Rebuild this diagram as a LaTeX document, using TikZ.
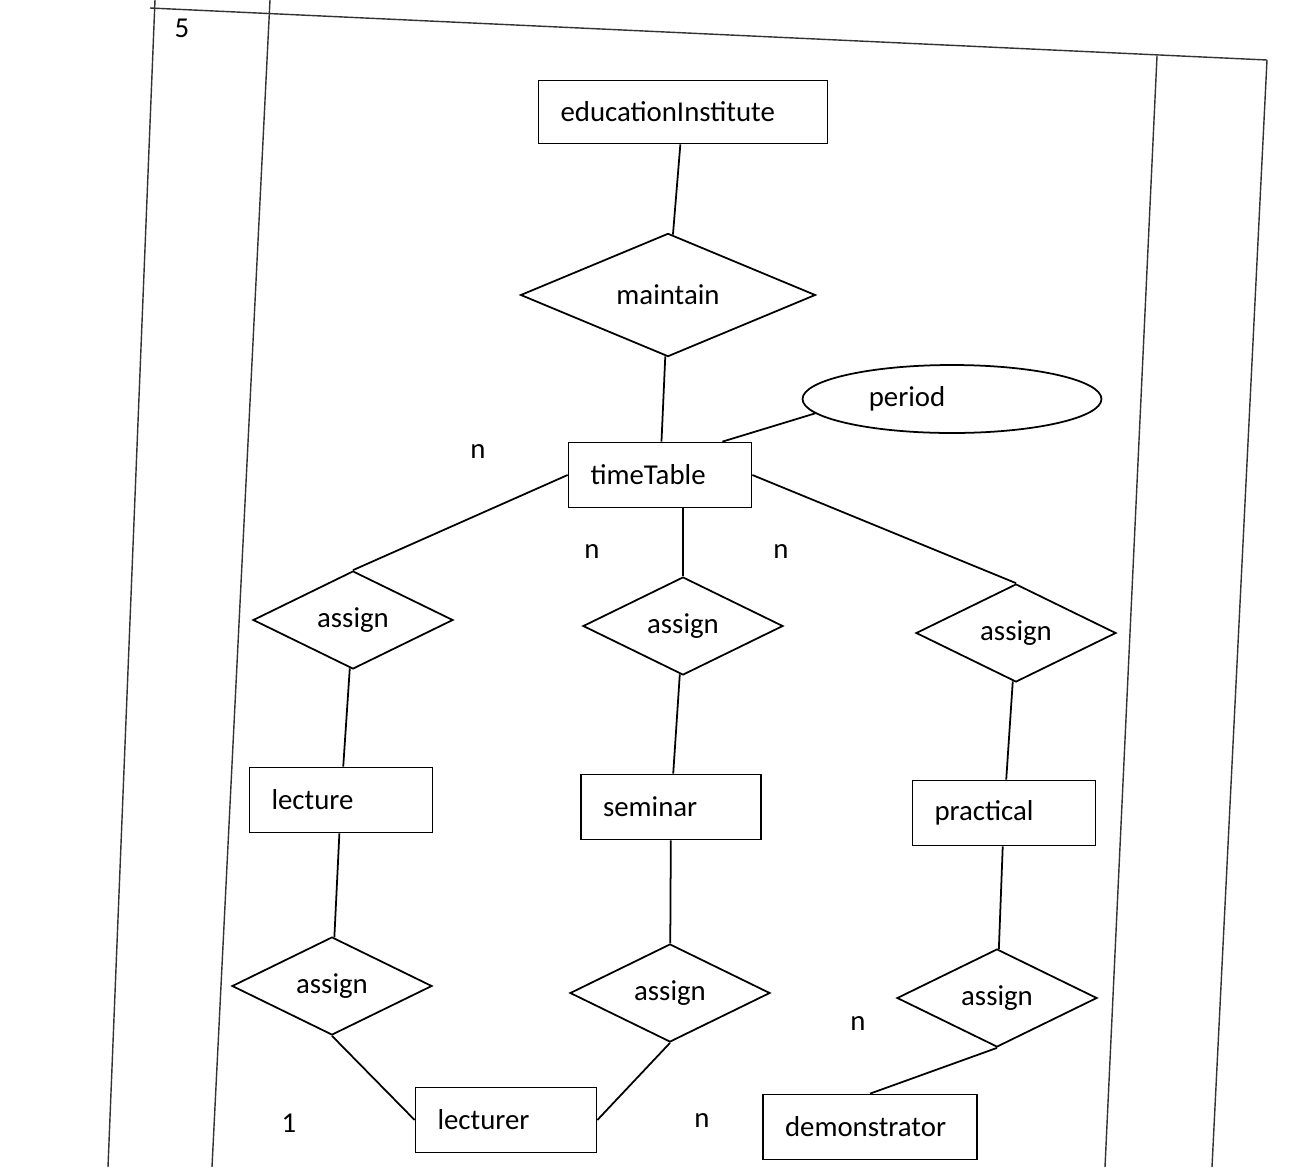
\documentclass[tikz,border=0pt]{standalone}
\usepackage{fontspec}
\setmainfont{Carlito}
\usetikzlibrary{shapes.geometric}
\begin{document}
\begin{tikzpicture}[x=0.02cm,y=-0.02cm]
  \tikzstyle{lien}=[line width=1pt]
  \tikzstyle{cadre}=[line width=0.8pt,black!80]
\tikzset{texte/.style={font=\fontsize{16.4}{19}\selectfont},
entite/.style={draw,line width=1pt,texte,inner xsep=0.44cm,minimum height=1.3cm,text width=#1,align=left},
entite/.default={2.78cm},
relation/.style={draw,diamond,line width=1pt,texte,inner sep=0pt,minimum width=4cm,minimum height=1.96cm},
attribut/.style={draw,ellipse,line width=1pt,texte,minimum width=5.98cm,minimum height=1.36cm},
carte/.style={texte,inner sep=1pt}}
\useasboundingbox (0,0) rectangle (1315,1167);
\fill[white] (0,0) rectangle (1315,1167);

% cadre du tableau
\draw[cadre] (155,0) -- (108,1167);
\draw[cadre] (270,0) -- (212,1167);
\draw[cadre] (150,8) -- (1267,60);
\draw[cadre] (1157,56) -- (1105,1167);
\draw[cadre] (1267,60) -- (1212,1167);
\node[carte] (num) at (182,28){5};

\node[entite=4.9cm,minimum height=1.26cm] (E) at (683,112){educationInstitute};
\node[relation,minimum width=5.9cm,minimum height=2.1cm] (M) at (668,295){maintain};
\node[attribut] (P) at (952,399){period\rule{1.8cm}{0pt}};
\node[entite] (T) at (660,475){timeTable};

\node[relation] (A1) at (353,620){assign};
\node[relation] (A2) at (683,626){assign};
\node[relation] (A3) at (1016,633){assign};

\node[entite] (L) at (341,800){lecture};
\node[entite=2.72cm] (S) at (671,807){seminar};
\node[entite] (Pr) at (1004,813){practical};

\node[relation] (A4) at (332,986){assign};
\node[relation] (A5) at (670,993){assign};
\node[relation] (A6) at (997,998){assign};

\node[entite=2.74cm] (Lr) at (506,1120){lecturer};
\node[entite=3.4cm] (D) at (870,1127){demonstrator};

% cardinalites
\node[carte] (c1) at (478,452){n};
\node[carte] (c2) at (592,552){n};
\node[carte] (c3) at (781,552){n};
\node[carte] (c4) at (858,1023){n};
\node[carte] (c5) at (289,1123){1};
\node[carte] (c6) at (702,1120){n};

\draw[lien] (E) -- (M);
\draw[lien] (M) -- (T);
\draw[lien] (P.186) -- ([xshift=-0.6cm]T.north east);
\draw[lien] (T.west) -- (A1.north);
\draw[lien] (T.south -| A2.north) -- (A2.north);
\draw[lien] (T.east) -- (A3.north);
\draw[lien] (A1) -- (L);
\draw[lien] (A2) -- (S);
\draw[lien] (A3) -- (Pr);
\draw[lien] (L) -- (A4);
\draw[lien] (S) -- (A5);
\draw[lien] (Pr) -- (A6);
\draw[lien] (A4.south) -- (Lr.west);
\draw[lien] (A5.south) -- (Lr.east);
\draw[lien] (A6.south) -- (D.north);

  \end{tikzpicture}
\end{document}
